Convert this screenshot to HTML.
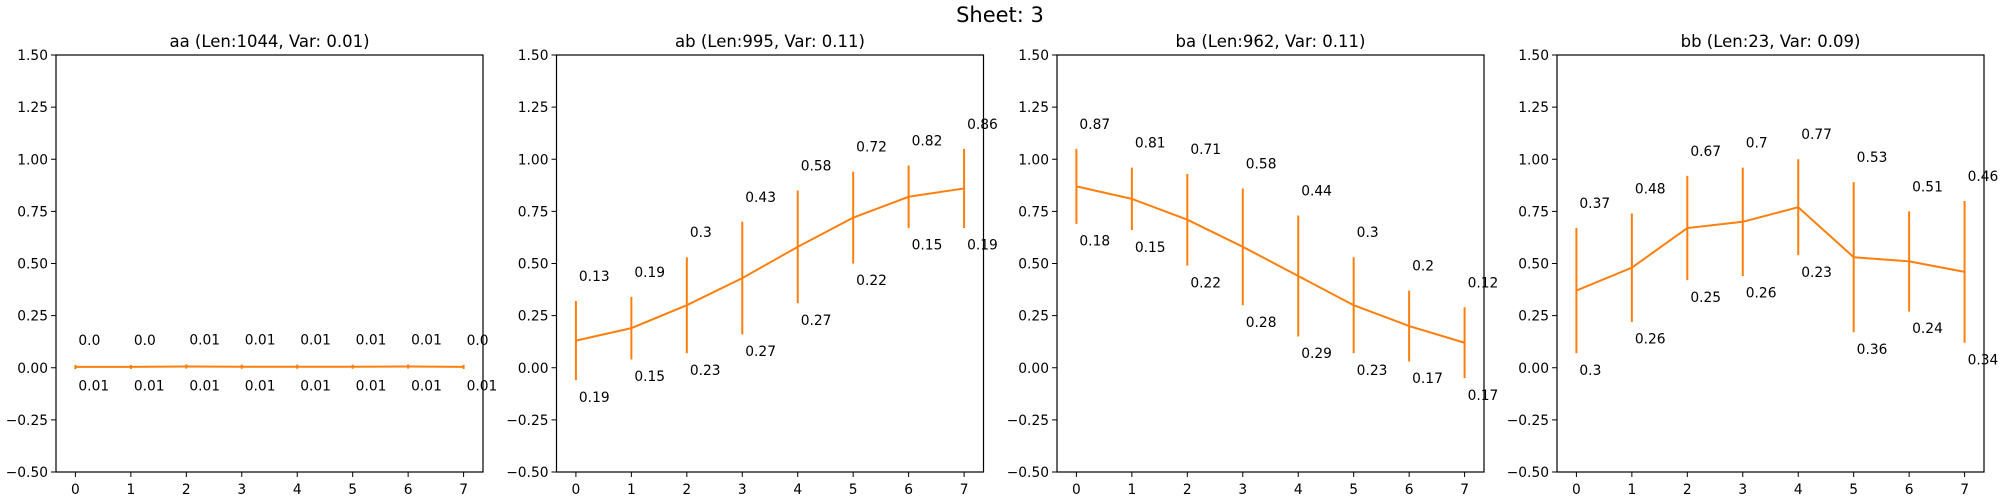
<!DOCTYPE html>
<html><head><meta charset="utf-8"><style>
html,body{margin:0;padding:0;background:#fff;}
svg{display:block;font-family:"DejaVu Sans","Liberation Sans",sans-serif;}
</style></head><body>
<svg id="chart" width="2000" height="500" viewBox="0 0 2000 500" xmlns="http://www.w3.org/2000/svg">
<text x="1000" y="22" text-anchor="middle" font-size="21">Sheet: 3</text>
</svg>
<script>
const panelTitles = ["aa (Len:1044, Var: 0.01)","ab (Len:995, Var: 0.11)","ba (Len:962, Var: 0.11)","bb (Len:23, Var: 0.09)"];
const panelNames = ["aa","ab","ba","bb"];
const xCategories = [0,1,2,3,4,5,6,7];
const meansAA = [0.004,0.004,0.006,0.005,0.005,0.005,0.006,0.004];
const stdsAA = [0.01,0.01,0.01,0.01,0.01,0.01,0.01,0.01];
const meansAB = [0.13,0.19,0.3,0.43,0.58,0.72,0.82,0.86];
const stdsAB = [0.19,0.15,0.23,0.27,0.27,0.22,0.15,0.19];
const meansBA = [0.87,0.81,0.71,0.58,0.44,0.3,0.2,0.12];
const stdsBA = [0.18,0.15,0.22,0.28,0.29,0.23,0.17,0.17];
const meansBB = [0.37,0.48,0.67,0.7,0.77,0.53,0.51,0.46];
const stdsBB = [0.3,0.26,0.25,0.26,0.23,0.36,0.24,0.34];
const yTickValues = [-0.5,-0.25,0,0.25,0.5,0.75,1,1.25,1.5];
const yTickLabels = ["\u22120.50","\u22120.25","0.00","0.25","0.50","0.75","1.00","1.25","1.50"];

const allMeans = [meansAA, meansAB, meansBA, meansBB];
const allStds = [stdsAA, stdsAB, stdsBA, stdsBB];
const NS = "http://www.w3.org/2000/svg";
const svg = document.getElementById("chart");
const panelLefts = [56, 556.5, 1057, 1557];
const W = 427, TOP = 55, BOT = 472;
const yMin = -0.5, yMax = 1.5, xMin = -0.35, xMax = 7.35;
const color = "#ff7f0e";
function mk(tag, attrs, parent){const e=document.createElementNS(NS,tag);for(const k in attrs)e.setAttribute(k,attrs[k]);(parent||svg).appendChild(e);return e;}
function fmt(v){let r=Math.round(v*100)/100;let s=String(r);if(s.indexOf('.')<0)s+='.0';return s;}

for(let p=0;p<4;p++){
  const L=panelLefts[p];
  const xs=v=>L+(v-xMin)/(xMax-xMin)*W;
  const ys=v=>BOT-(v-yMin)/(yMax-yMin)*(BOT-TOP);
  const g=mk("g",{});
  
  
  const t=mk("text",{x:L+W/2,y:47,"text-anchor":"middle","font-size":"16.5"},g);
  t.textContent=panelTitles[p];
  
  
  yTickValues.forEach((v,i)=>{
    const y=ys(v);
    const tk=mk("line",{x1:L-5,x2:L,y1:y,y2:y,stroke:"#000","stroke-width":1},g);
    
    
    const tl=mk("text",{x:L-8,y:y+5,"text-anchor":"end","font-size":"13.8"},g);
    tl.textContent=yTickLabels[i];
    
    
  });
  xCategories.forEach(c=>{
    const x=xs(c);
    const tk=mk("line",{x1:x,x2:x,y1:BOT,y2:BOT+5,stroke:"#000","stroke-width":1},g);
    
    
    const tl=mk("text",{x:x,y:BOT+22,"text-anchor":"middle","font-size":"13.8"},g);
    tl.textContent=String(c);
    
    
  });
  const m=allMeans[p], s=allStds[p];
  xCategories.forEach((c,i)=>{
    const x=xs(c);
    const eb=mk("line",{x1:x,x2:x,y1:ys(m[i]-s[i]),y2:ys(m[i]+s[i]),stroke:color,"stroke-width":2},g);
    
    
  });
  const pts=xCategories.map((c,i)=>xs(c)+","+ys(m[i])).join(" ");
  const ln=mk("polyline",{points:pts,fill:"none",stroke:color,"stroke-width":2},g);
  
  
  xCategories.forEach((c,i)=>{
    const x=xs(c)+3;
    const a=mk("text",{x:x,y:ys(m[i]+s[i]+0.12)+5,"font-size":"13.8"},g);
    a.textContent=fmt(m[i]);
    
    
    const b=mk("text",{x:x,y:ys(m[i]-s[i]-0.08)+5,"font-size":"13.8"},g);
    b.textContent=fmt(s[i]);
    
    
  });
  const fr=mk("rect",{x:L,y:TOP,width:W,height:BOT-TOP,fill:"none",stroke:"#000","stroke-width":1.2},g);
  
  
}
</script>
</body></html>
